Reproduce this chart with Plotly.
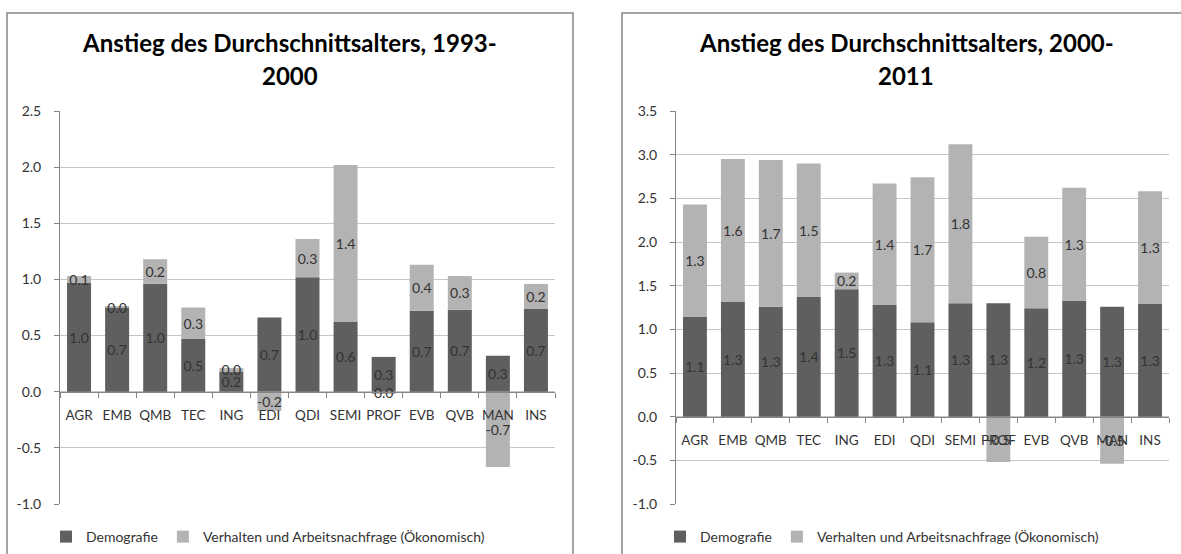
import plotly.graph_objects as go

W, H = 1181, 554

categories = ["AGR", "EMB", "QMB", "TEC", "ING", "EDI", "QDI", "SEMI", "PROF", "EVB", "QVB", "MAN", "INS"]

# 1993-2000
demo_1993 = [0.97, 0.749, 0.96, 0.47, 0.18, 0.66, 1.02, 0.62, 0.31, 0.72, 0.73, 0.32, 0.74]
econ_1993 = [0.06, 0.01, 0.22, 0.28, 0.03, -0.17, 0.34, 1.40, -0.02, 0.41, 0.30, -0.67, 0.22]

# 2000-2011
demo_2000 = [1.14, 1.32, 1.26, 1.37, 1.46, 1.28, 1.08, 1.30, 1.30, 1.24, 1.33, 1.26, 1.29]
econ_2000 = [1.29, 1.63, 1.68, 1.53, 0.19, 1.39, 1.66, 1.82, -0.52, 0.82, 1.29, -0.54, 1.29]

yticks_1 = [-1.0, -0.5, 0.0, 0.5, 1.0, 1.5, 2.0, 2.5]
yticks_2 = [-1.0, -0.5, 0.0, 0.5, 1.0, 1.5, 2.0, 2.5, 3.0, 3.5]

title_1 = ["Anstieg des Durchschnittsalters, 1993-", "2000"]
title_2 = ["Anstieg des Durchschnittsalters, 2000-", "2011"]
series_names = ["Demografie", "Verhalten und Arbeitsnachfrage (Ökonomisch)"]

DARK = "#5f5f5f"
LIGHT = "#b3b3b3"
TXT = "#333333"
FONT = "Lato"


def fmt(v):
    r = round(v, 1) + 0.0
    return f"{r:.1f}"


def ticktxt(v):
    return f"{v:.1f}"


def px_x(p):
    return p / W


def px_y(p):
    return 1 - p / H


fig = go.Figure()

panels = [
    (demo_1993, econ_1993, "x", "y", "legend"),
    (demo_2000, econ_2000, "x2", "y2", "legend2"),
]
for demo, econ, xa, ya, lg in panels:
    for vals, col, name in [(demo, DARK, series_names[0]), (econ, LIGHT, series_names[1])]:
        fig.add_trace(go.Bar(
            x=categories, y=vals, name=name, marker=dict(color=col, line=dict(width=0)),
            text=[fmt(v) for v in vals], textposition="inside", insidetextanchor="middle",
            textangle=0, constraintext="none",
            textfont=dict(family=FONT, size=14, color=TXT),
            xaxis=xa, yaxis=ya, legend=lg, hoverinfo="skip",
        ))

# plot-area geometry (pixels)
L1, R1 = 60, 555
L2, R2 = 676, 1169
TOP, BOT = 111, 504
ydom = [px_y(BOT), px_y(TOP)]

r1 = [yticks_1[0], yticks_1[-1]]
r2 = [yticks_2[0], yticks_2[-1]]
zero1 = ydom[0] + (0 - r1[0]) / (r1[1] - r1[0]) * (ydom[1] - ydom[0])
zero2 = ydom[0] + (0 - r2[0]) / (r2[1] - r2[0]) * (ydom[1] - ydom[0])

axis_common = dict(linecolor="#868686", linewidth=1, tickcolor="#868686", automargin=False)

xcommon = dict(axis_common, type="category", showline=True, ticks="outside", ticklen=5,
               tickson="boundaries", showgrid=False, anchor="free", fixedrange=True,
               tickangle=0, ticklabelstandoff=11,
               tickfont=dict(family=FONT, size=13.5, color=TXT))
ycommon = dict(axis_common, showline=True, ticks="outside", ticklen=5, showgrid=True,
               gridcolor="#c6c6c6", gridwidth=1, zeroline=False, fixedrange=True,
               ticklabelstandoff=10, tickfont=dict(family=FONT, size=14, color=TXT))

fig.update_layout(
    width=W, height=H, margin=dict(l=0, r=0, t=0, b=0, autoexpand=False),
    paper_bgcolor="white", plot_bgcolor="white",
    barmode="relative", bargap=0.37,
    showlegend=True,
    font=dict(family=FONT, color=TXT),
    xaxis=dict(xcommon, domain=[px_x(L1), px_x(R1)], position=zero1),
    yaxis=dict(ycommon, domain=ydom, range=r1, tickvals=yticks_1,
               ticktext=[ticktxt(v) for v in yticks_1], anchor="x"),
    xaxis2=dict(xcommon, domain=[px_x(L2), px_x(R2)], position=zero2),
    yaxis2=dict(ycommon, domain=ydom, range=r2, tickvals=yticks_2,
                ticktext=[ticktxt(v) for v in yticks_2], anchor="x2"),
    legend=dict(orientation="h", x=px_x(46), y=px_y(537), xanchor="left", yanchor="middle",
                font=dict(family=FONT, size=14, color=TXT),
                bgcolor="rgba(0,0,0,0)", itemclick=False, itemdoubleclick=False),
    legend2=dict(orientation="h", x=px_x(660), y=px_y(537), xanchor="left", yanchor="middle",
                 font=dict(family=FONT, size=14, color=TXT),
                 bgcolor="rgba(0,0,0,0)", itemclick=False, itemdoubleclick=False),
)

# panel borders
fig.add_shape(type="rect", xref="paper", yref="paper", x0=px_x(7), x1=px_x(573), y0=px_y(560),
              y1=px_y(13), line=dict(color="#868686", width=1.5), fillcolor="rgba(0,0,0,0)", layer="below")
fig.add_shape(type="rect", xref="paper", yref="paper", x0=px_x(622), x1=px_x(1190), y0=px_y(560),
              y1=px_y(13), line=dict(color="#868686", width=1.5), fillcolor="rgba(0,0,0,0)", layer="below")

# titles
for cx, lines in [(289.5, title_1), (906, title_2)]:
    for ly, t in zip([43, 75], lines):
        fig.add_annotation(xref="paper", yref="paper", x=px_x(cx), y=px_y(ly), text=t,
                           showarrow=False, xanchor="center", yanchor="middle",
                           font=dict(family=FONT, size=24, color="black", weight="bold"))

fig.write_html("out.html", config={"displayModeBar": False},
               post_script="document.body.style.margin='0';document.body.style.overflow='hidden';")
